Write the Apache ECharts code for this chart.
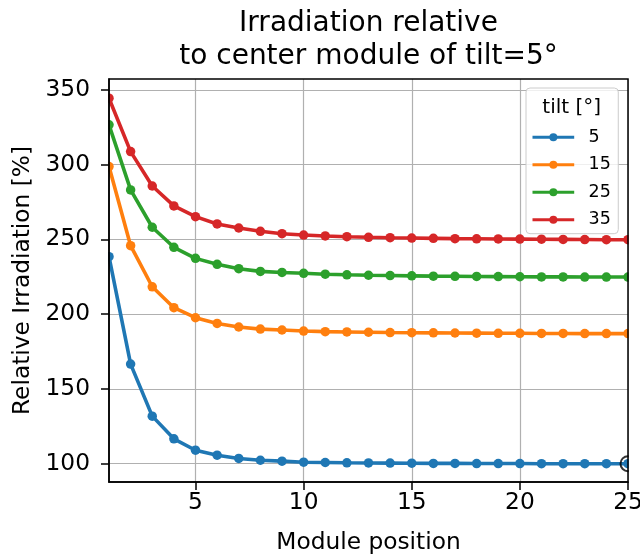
<!DOCTYPE html>
<html>
<head>
<meta charset="utf-8">
<script src="https://cdn.jsdelivr.net/npm/echarts@6/dist/echarts.min.js"></script>
<style>html,body{margin:0;padding:0;background:#fff}#c{width:640px;height:556px}</style>
</head>
<body>
<div id="c"></div>
<script>
const positions = [1,2,3,4,5,6,7,8,9,10,11,12,13,14,15,16,17,18,19,20,21,22,23,24,25];
const tilts = ['5','15','25','35'];
const tilt5  = [238.4,166.6,131.8,116.6,109.0,105.7,103.5,102.3,101.7,101.0,100.8,100.6,100.5,100.4,100.3,100.2,100.2,100.1,100.1,100.1,100.0,100.0,100.0,100.0,100.0];
const tilt15 = [298.7,245.8,218.3,204.3,197.6,193.8,191.4,190.0,189.4,188.7,188.3,188.1,187.9,187.7,187.6,187.5,187.4,187.3,187.2,187.2,187.1,187.1,187.0,187.0,187.0];
const tilt25 = [326.6,283.1,258.1,244.7,237.3,233.3,230.4,228.6,227.9,227.3,226.7,226.3,226.0,225.8,225.6,225.4,225.3,225.2,225.1,225.0,224.9,224.9,224.8,224.8,224.8];
const tilt35 = [344.4,308.7,285.7,272.4,265.2,260.3,257.6,255.4,253.8,252.9,252.3,251.8,251.4,251.1,250.9,250.7,250.5,250.4,250.3,250.2,250.1,250.0,249.9,249.8,249.8];
const centerPoint = [25, 100];
const xTicks = [5,10,15,20,25];
const yTicks = [100,150,200,250,300,350];

const colors = ['#1f77b4','#ff7f0e','#2ca02c','#d62728'];
const seriesValues = [tilt5, tilt15, tilt25, tilt35];
const FONT = 'DejaVu Sans';
const X_MIN = 1, X_MAX = 25, Y_MIN = 87.75, Y_MAX = 357.25;
const G = {left: 109, right: 12, top: 79, bottom: 74};
const W = 640, H = 556;

const series = seriesValues.map((vals, i) => ({
  name: tilts[i],
  type: 'line',
  xAxisIndex: 0, yAxisIndex: 0,
  data: positions.map((p, j) => [p, vals[j]]),
  symbol: 'circle',
  symbolSize: 9.5,
  showAllSymbol: true,
  clip: false,
  lineStyle: {width: 3.6, color: colors[i]},
  itemStyle: {color: colors[i]},
  emphasis: {disabled: true},
  z: 2 + i
}));
series.push({
  name: 'center',
  type: 'scatter',
  xAxisIndex: 0, yAxisIndex: 0,
  data: [centerPoint],
  symbol: 'circle',
  symbolSize: 15,
  clip: false,
  itemStyle: {color: 'rgba(255,255,255,0)', borderColor: '#000', borderWidth: 2},
  z: 7
});

const tickText = {fontFamily: FONT, fontSize: 23.3, color: '#000'};
const gridAxisX = {
  type: 'value', min: X_MIN, max: X_MAX, position: 'bottom', z: 0,
  axisLine: {show: false}, axisTick: {show: false, customValues: xTicks},
  axisLabel: {show: false, customValues: xTicks},
  splitLine: {show: true, lineStyle: {color: '#b0b0b0', width: 1.2}}
};
const labelAxisX = {
  type: 'value', min: X_MIN, max: X_MAX, position: 'bottom', z: 20,
  name: 'Module position', nameLocation: 'middle', nameGap: 49,
  nameTextStyle: tickText,
  axisLine: {show: true, onZero: false, lineStyle: {color: '#000', width: 1.5}},
  axisTick: {show: true, length: 8, lineStyle: {color: '#000', width: 1.5}, customValues: xTicks},
  axisLabel: Object.assign({margin: 9.5, customValues: xTicks}, tickText),
  splitLine: {show: false}
};
const gridAxisY = {
  type: 'value', min: Y_MIN, max: Y_MAX, position: 'left', z: 0,
  axisLine: {show: false}, axisTick: {show: false, customValues: yTicks},
  axisLabel: {show: false, customValues: yTicks},
  splitLine: {show: true, lineStyle: {color: '#b0b0b0', width: 1.2}}
};
const labelAxisY = {
  type: 'value', min: Y_MIN, max: Y_MAX, position: 'left', z: 20,
  name: 'Relative Irradiation [%]', nameLocation: 'middle', nameGap: 74,
  nameTextStyle: tickText,
  axisLine: {show: true, onZero: false, lineStyle: {color: '#000', width: 1.5}},
  axisTick: {show: true, length: 8, lineStyle: {color: '#000', width: 1.5}, customValues: yTicks},
  axisLabel: Object.assign({margin: 19, customValues: yTicks}, tickText),
  splitLine: {show: false}
};

const plotW = W - G.left - G.right, plotH = H - G.top - G.bottom;

const chart = echarts.init(document.getElementById('c'), null, {renderer: 'canvas'});
chart.setOption({
  animation: false,
  color: colors,
  grid: {left: G.left, right: G.right, top: G.top, bottom: G.bottom, show: false, containLabel: false, outerBoundsMode: 'none'},
  graphic: [
    {type: 'rect', z: 15, silent: true, shape: {x: 0, y: G.top - 10, width: G.left - 0.75, height: plotH + 20}, style: {fill: '#fff'}},
    {type: 'rect', z: 15, silent: true, shape: {x: W - G.right + 0.75, y: 0, width: G.right, height: H}, style: {fill: '#fff'}},
    {type: 'rect', z: 30, silent: true, shape: {x: G.left, y: G.top, width: plotW, height: plotH}, style: {fill: null, stroke: '#000', lineWidth: 1.5}},
    {type: 'text', z: 30, x: (G.left + W - G.right) / 2, y: 6.7,
     style: {text: 'Irradiation relative\nto center module of tilt=5°', font: '28px "DejaVu Sans"', fill: '#000', textAlign: 'center', textVerticalAlign: 'top', lineHeight: 33.4}},
    {type: 'text', z: 40, x: 571.7, y: 107.5,
     style: {text: 'tilt [°]', font: '20px "DejaVu Sans"', fill: '#000', textAlign: 'center', textVerticalAlign: 'middle'}}
  ],
  legend: {
    data: tilts,
    orient: 'vertical',
    left: 526, top: 88, z: 35,
    padding: [39.2, 7.5, 4, 5],
    itemWidth: 41.7, itemHeight: 10, itemGap: 7.5,
    lineStyle: {width: 3},
    backgroundColor: 'rgba(255,255,255,0.8)',
    borderColor: '#cccccc', borderWidth: 1, borderRadius: 4,
    textStyle: {fontFamily: FONT, fontSize: 17.5, color: '#000', lineHeight: 20, padding: [0,0,0,9.3]},
    selectedMode: false
  },
  xAxis: [gridAxisX, labelAxisX],
  yAxis: [gridAxisY, labelAxisY],
  series: series
});
</script>
</body>
</html>
